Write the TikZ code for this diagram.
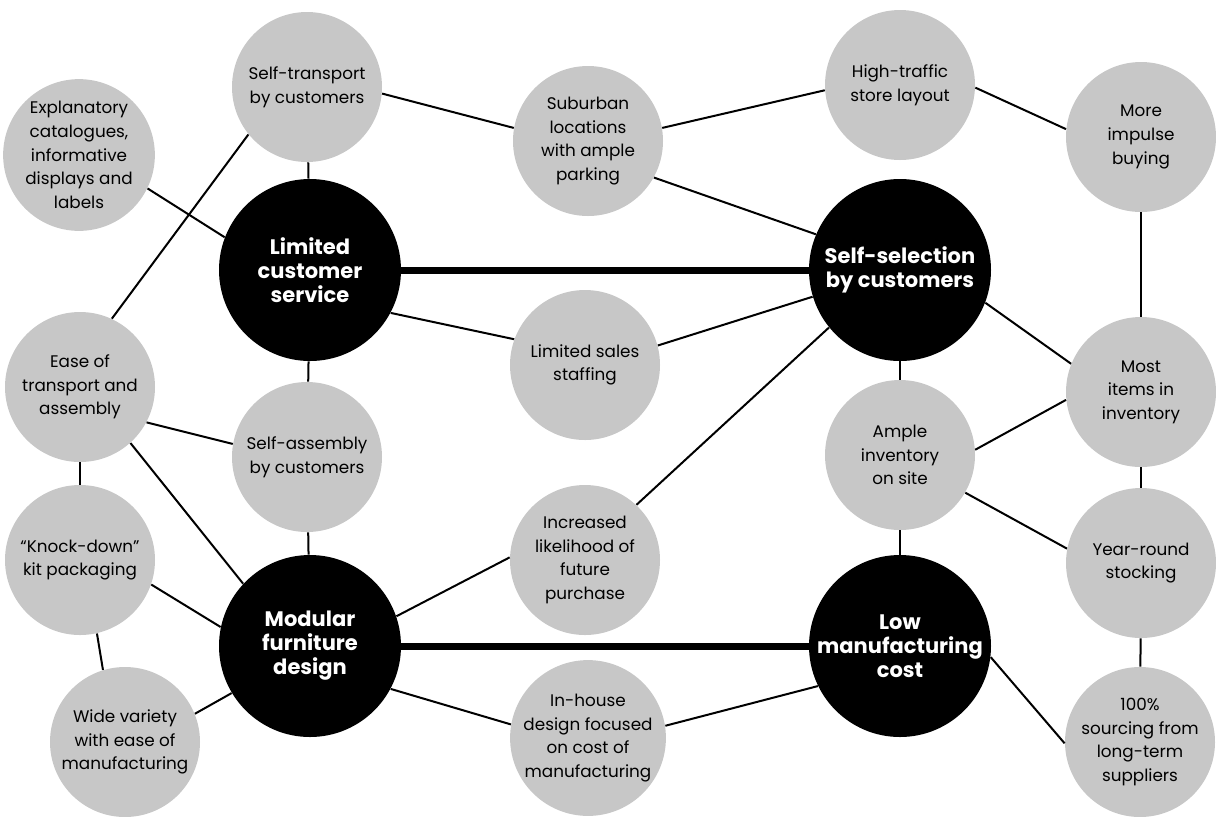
\documentclass[tikz,border=0pt]{standalone}
\usepackage{fontspec}
\setmainfont{Poppins}
\begin{document}
\begin{tikzpicture}[x=0.5pt,y=-0.5pt,
  activity/.style={circle,fill=black!22,minimum size=75pt,inner sep=0pt,align=center,
    font=\fontsize{8.4}{11.8}\selectfont},
  theme/.style={circle,fill=black,text=white,minimum size=91pt,inner sep=0pt,align=center,
    font=\bfseries\fontsize{10.5}{12}\selectfont},
  link/.style={line width=1pt},
  fitline/.style={line width=3.5pt}]
\useasboundingbox (0,0) rectangle (1216,816);
\node[theme] (service) at (310,270) {Limited\\customer\\service};
\node[theme] (select) at (900,270) {Self-selection\\by customers};
\node[theme] (modular) at (310,646) {Modular\\furniture\\design};
\node[theme] (lowcost) at (900,646) {Low\\manufacturing\\cost};
\node[activity] (strans) at (307,87) {Self-transport\\by customers};
\node[activity] (expl) at (79,155) {Explanatory\\catalogues,\\informative\\displays and\\labels};
\node[activity] (suburb) at (588,141) {Suburban\\locations\\with ample\\parking};
\node[activity] (traffic) at (900,85) {High-traffic\\store layout};
\node[activity] (impulse) at (1141,137) {More\\impulse\\buying};
\node[activity] (ease) at (80,387) {Ease of\\transport and\\assembly};
\node[activity] (staff) at (585,365) {Limited sales\\staffing};
\node[activity] (items) at (1141,392) {Most\\items in\\inventory};
\node[activity] (sassem) at (307,457) {Self-assembly\\by customers};
\node[activity] (ample) at (900,455) {Ample\\inventory\\on site};
\node[activity] (knock) at (80,560) {``Knock-down''\\kit packaging};
\node[activity] (likely) at (585,560) {Increased\\likelihood of\\future\\purchase};
\node[activity] (yearround) at (1141,563) {Year-round\\stocking};
\node[activity] (variety) at (125,742) {Wide variety\\with ease of\\manufacturing};
\node[activity] (inhouse) at (588,738) {In-house\\design focused\\on cost of\\manufacturing};
\node[activity] (sourcing) at (1140,742) {100\%\\sourcing from\\long-term\\suppliers};
\draw[fitline] (service) -- (select);
\draw[fitline] (modular) -- (lowcost);
\draw[link] (strans) -- (service);
\draw[link] (strans.-5) -- (suburb.170);
\draw[link] (strans.219) -- (ease.65);
\draw[link] (expl.-26) -- (service.159);
\draw[link] (suburb.10) -- (traffic.184);
\draw[link] (suburb.-29) -- (select.157);
\draw[link] (traffic.-2) -- (impulse.174);
\draw[link] (impulse) -- (items);
\draw[link] (service.-28) -- (staff.160);
\draw[link] (staff.15) -- (select.197);
\draw[link] (service) -- (sassem);
\draw[link] (select.-21) -- (items.158);
\draw[link] (select) -- (ample);
\draw[link] (select.219) -- (likely.47);
\draw[link] (ease.-28) -- (sassem.170);
\draw[link] (ease.-48) -- (modular.137);
\draw[link] (ease) -- (knock);
\draw[link] (sassem) -- (modular);
\draw[link] (ample.4) -- (items.186);
\draw[link] (ample.-30) -- (yearround.169);
\draw[link] (ample) -- (lowcost);
\draw[link] (items) -- (yearround);
\draw[link] (knock.-19) -- (modular.168);
\draw[link] (knock.-77) -- (variety.107);
\draw[link] (variety.22) -- (modular.211);
\draw[link] (modular.19) -- (likely.178);
\draw[link] (modular.-28) -- (inhouse.170);
\draw[link] (inhouse.9) -- (lowcost.206);
\draw[link] (lowcost.-7) -- (sourcing.181);
\draw[link] (yearround) -- (sourcing);
\end{tikzpicture}
\end{document}
